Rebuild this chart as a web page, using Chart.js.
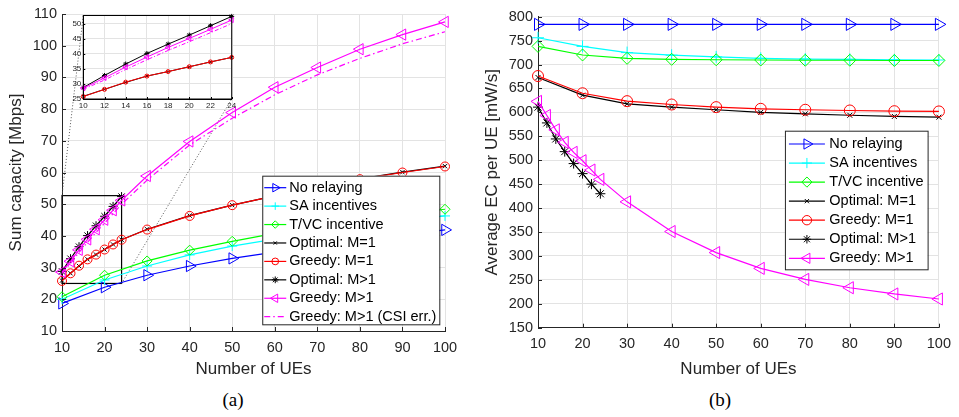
<!DOCTYPE html>
<html>
<head>
<meta charset="utf-8">
<script src="https://cdn.jsdelivr.net/npm/chart.js@4.4.0/dist/chart.umd.min.js"></script>
<style>
  body { margin: 0; background: #fff; }
  #wrap { position: relative; width: 959px; height: 417px; overflow: hidden; }
  #wrap canvas { position: absolute; }
  #capChart { left: 0; top: 0; }
  #zoomChart { left: 58px; top: 8px; }
  #ecChart { left: 480px; top: 0; }
  .caption { position: absolute; top: 389px; width: 60px; text-align: center;
             font-family: "Liberation Serif", "Times New Roman", serif; font-size: 19px; color: #000; }
</style>
</head>
<body>
<div id="wrap">
  <canvas id="capChart" width="480" height="380"></canvas>
  <canvas id="zoomChart" width="182" height="106"></canvas>
  <canvas id="ecChart" width="479" height="380"></canvas>
  <div class="caption" style="left:203px">(a)</div>
  <div class="caption" style="left:690px">(b)</div>
</div>
<script>
// number of UEs
const xFine = [10, 12, 14, 16, 18, 20, 22, 24];
const xCoarse = [10, 20, 30, 40, 50, 60, 70, 80, 90, 100];
const xMixed = [10, 12, 14, 16, 18, 20, 22, 24, 30, 40, 50, 60, 70, 80, 90, 100];

// (a) sum capacity [Mbps]
const capNoRelay = [18.7, 23.8, 27.6, 30.5, 32.9, 34.9, 36.8, 38.6, 40.3, 41.9];
const capSA = [20.0, 26.1, 30.5, 34.0, 36.8, 39.0, 41.0, 42.9, 44.7, 46.3];
const capTVC = [20.8, 27.6, 32.1, 35.5, 38.3, 40.8, 43.1, 45.2, 46.9, 48.4];
const capOptM1 = [25.9, 28.2, 30.5, 32.6, 34.1, 35.7, 37.3, 38.8, 42.1, 46.4, 49.7, 52.6, 55.4, 58.0, 60.1, 62.0];
const capGreedyM1 = [25.8, 28.2, 30.6, 32.6, 34.1, 35.7, 37.3, 38.8, 42.0, 46.3, 49.7, 52.6, 55.4, 57.9, 60.0, 61.9];
const capOptMm = [28.8, 32.8, 36.6, 40.1, 43.2, 46.2, 49.3, 52.4];
const capGreedyMm = [28.6, 32.0, 35.6, 38.9, 42.1, 45.1, 48.1, 51.2, 58.9, 69.8, 78.9, 86.9, 93.1, 98.9, 103.5, 107.5];
const capGreedyCsi = [28.2, 31.3, 34.8, 38.0, 41.1, 44.0, 47.0, 50.0, 57.6, 68.7, 77.1, 84.5, 90.8, 96.0, 100.6, 104.4];

// (b) average EC per UE [mW/s]
const ecNoRelay = [784, 784, 784, 784, 784, 784, 784, 784, 784, 784];
const ecSA = [756, 738, 725, 719.5, 716, 713, 711.5, 711, 710, 709.5];
const ecTVC = [738, 720, 713, 711, 710, 709.5, 709, 709, 708.5, 708.5];
const ecOptM1 = [673, 636, 618, 611, 605.5, 600, 597, 594, 591.5, 590];
const ecGreedyM1 = [676, 640, 623.5, 616.5, 611, 607.5, 605.5, 604, 602.5, 602];
const ecOptMm = [611, 578, 544.5, 518, 493, 472, 450, 430];
const ecGreedyMm = [623, 593.5, 563.5, 537.5, 516.5, 499, 479.5, 460, 413, 351, 307, 274, 251, 233.5, 220.5, 210];

// axis ranges and tick values
const capRange = [10, 110], ecRange = [150, 800], ueRange = [10, 100];
const zoomX = [10, 24], zoomY = [25, 52.7];
const ueTicks = [10, 20, 30, 40, 50, 60, 70, 80, 90, 100];
const capTicks = [10, 20, 30, 40, 50, 60, 70, 80, 90, 100, 110];
const ecTicks = [150, 200, 250, 300, 350, 400, 450, 500, 550, 600, 650, 700, 750, 800];
const zoomXTicks = [10, 12, 14, 16, 18, 20, 22, 24];
const zoomYTicks = [25, 30, 35, 40, 45, 50];

const TXT = '#262626';
const GRID = '#e3e3e3';
const SANS = '"Liberation Sans", Arial, sans-serif';

function pts(xs, ys) {
    return xs.map((x, i) => ({ x: x, y: ys[i] }));
}

function series(label, xs, ys, color, marker, extra) {
    return Object.assign({
        label: label,
        data: pts(xs, ys),
        borderColor: color,
        borderWidth: 1.2,
        pointStyle: marker.style,
        pointRotation: marker.rot || 0,
        pointRadius: marker.r,
        pointBorderColor: color,
        pointBackgroundColor: 'rgba(0,0,0,0)',
        pointBorderWidth: 1,
        tension: 0,
        fill: false,
        clip: false
    }, extra || {});
}

// later series sit on top, like the plotting order
function stackOrder(list) {
    list.forEach((d, i) => { d.order = list.length - i; });
    return list;
}

// framed legend drawn inside the plot area
const boxLegend = {
    id: 'boxLegend',
    afterDraw(chart, args, opts) {
        const { ctx, chartArea } = chart;
        const items = chart.data.datasets;
        ctx.save();
        ctx.font = '14.5px ' + SANS;
        const textW = Math.max(...items.map(d => ctx.measureText(d.label).width));
        const w = opts.padL + opts.sample + opts.gap + textW + opts.padR;
        const h = opts.padT + opts.rowH * (items.length - 1) + opts.padB;
        const right = chartArea.right - opts.right;
        const left = right - w;
        const top = opts.top != null ? chartArea.top + opts.top : chartArea.bottom - opts.bottom - h;
        ctx.fillStyle = '#fff';
        ctx.fillRect(left, top, w, h);
        ctx.strokeStyle = TXT;
        ctx.lineWidth = 1;
        ctx.strokeRect(left + 0.5, top + 0.5, w, h);
        items.forEach((d, i) => {
            const cy = top + opts.padT + i * opts.rowH;
            const sx = left + opts.padL;
            ctx.strokeStyle = d.borderColor;
            ctx.lineWidth = d.borderWidth;
            ctx.setLineDash(d.borderDash || []);
            ctx.beginPath();
            ctx.moveTo(sx, cy);
            ctx.lineTo(sx + opts.sample, cy);
            ctx.stroke();
            ctx.setLineDash([]);
            if (d.pointRadius > 0 && Chart.helpers && Chart.helpers.drawPoint) {
                ctx.fillStyle = 'rgba(0,0,0,0)';
                ctx.lineWidth = 1;
                Chart.helpers.drawPoint(ctx, {
                    pointStyle: d.pointStyle,
                    rotation: d.pointRotation,
                    radius: d.pointRadius * opts.markerScale,
                    borderWidth: 1
                }, sx + opts.sample / 2, cy);
            }
            ctx.fillStyle = '#000';
            ctx.textBaseline = 'middle';
            ctx.textAlign = 'left';
            ctx.fillText(d.label, sx + opts.sample + opts.gap, cy);
        });
        ctx.restore();
    }
};

// short inward tick marks on the left and bottom axes
const innerTicks = {
    id: 'innerTicks',
    afterDatasetsDraw(chart, args, opts) {
        const { ctx, chartArea: a, scales: { x, y } } = chart;
        const len = opts.len || 4;
        ctx.save();
        ctx.strokeStyle = opts.color || TXT;
        ctx.lineWidth = 1;
        ctx.beginPath();
        x.ticks.forEach(t => {
            const px = Math.round(x.getPixelForValue(t.value)) + 0.5;
            ctx.moveTo(px, a.bottom);
            ctx.lineTo(px, a.bottom - len);
        });
        y.ticks.forEach(t => {
            const py = Math.round(y.getPixelForValue(t.value)) + 0.5;
            ctx.moveTo(a.left, py);
            ctx.lineTo(a.left + len, py);
        });
        ctx.stroke();
        ctx.restore();
    }
};

function linearAxis(range, tickValues, fontSize, title, fitSize, horizontal, titlePad, tickPad) {
    return {
        type: 'linear',
        min: range[0],
        max: range[1],
        ticks: { color: TXT, font: { family: SANS, size: fontSize }, padding: tickPad, autoSkip: false },
        grid: { color: GRID, drawTicks: false },
        border: { color: TXT, width: 1 },
        title: title ? { display: true, text: title, color: TXT, font: { family: SANS, size: 17 }, padding: titlePad } : { display: false },
        afterBuildTicks: s => { s.ticks = tickValues.map(v => ({ value: v })); },
        afterFit: horizontal ? s => { s.height = fitSize; } : s => { s.width = fitSize; }
    };
}

// ---------- inset (zoom on 10..24 UEs) ----------
const zoomCanvas = document.getElementById('zoomChart');
const insetFrame = {
    id: 'insetFrame',
    beforeDraw(chart) {
        const a = chart.chartArea, ctx = chart.ctx;
        ctx.save();
        ctx.fillStyle = '#fff';
        ctx.fillRect(a.left, a.top, a.right - a.left, a.bottom - a.top);
        ctx.restore();
    },
    afterDraw(chart) {
        const a = chart.chartArea, ctx = chart.ctx;
        ctx.save();
        ctx.strokeStyle = '#000';
        ctx.lineWidth = 1;
        ctx.strokeRect(a.left, a.top, a.right - a.left, a.bottom - a.top);
        ctx.restore();
    }
};

const insetSets = stackOrder([
    series('Optimal: M=1', xFine, capOptM1.slice(0, 8), '#000000', { style: 'crossRot', r: 2 }, { borderWidth: 1 }),
    series('Greedy: M=1', xFine, capGreedyM1.slice(0, 8), '#ff0000', { style: 'circle', r: 2 }, { borderWidth: 1 }),
    series('Optimal: M>1', xFine, capOptMm, '#000000', { style: 'star', r: 2.5 }, { borderWidth: 1 }),
    series('Greedy: M>1', xFine, capGreedyMm.slice(0, 8), '#ff00ff', { style: 'triangle', rot: -90, r: 3 }, { borderWidth: 1 }),
    series('Greedy: M>1 (CSI err.)', xFine, capGreedyCsi.slice(0, 8), '#ff00ff', { style: 'circle', r: 0 }, { borderWidth: 1, borderDash: [4, 2, 1, 2] })
]);

const zoomChart = new Chart(zoomCanvas, {
    type: 'line',
    data: { datasets: insetSets },
    options: {
        responsive: false,
        animation: false,
        events: [],
        layout: { padding: { top: 7.5, right: 8.3, left: 0, bottom: 0 } },
        plugins: { legend: { display: false }, tooltip: { enabled: false }, innerTicks: { len: 2, color: '#000' } },
        scales: {
            x: Object.assign(linearAxis(zoomX, zoomXTicks, 8, null, 15, true, 0, 2), { border: { color: '#000' } }),
            y: Object.assign(linearAxis(zoomY, zoomYTicks, 8, null, 25.3, false, 0, 2), { border: { color: '#000' } })
        }
    },
    plugins: [insetFrame, innerTicks]
});

// ---------- (a) sum capacity ----------
const zoomBox = {
    id: 'zoomBox',
    beforeDatasetsDraw(chart) {
        const { ctx, scales: { x, y } } = chart;
        const x0 = x.getPixelForValue(zoomX[0]), x1 = x.getPixelForValue(zoomX[1]);
        const y0 = y.getPixelForValue(zoomY[1]), y1 = y.getPixelForValue(zoomY[0]);
        const a = zoomChart.chartArea;
        const ox = zoomCanvas.offsetLeft, oy = zoomCanvas.offsetTop;
        ctx.save();
        ctx.strokeStyle = '#000';
        ctx.lineWidth = 1.2;
        ctx.strokeRect(x0, y0, x1 - x0, y1 - y0);
        ctx.strokeStyle = '#555';
        ctx.lineWidth = 1;
        ctx.setLineDash([1, 2]);
        ctx.beginPath();
        ctx.moveTo(x0, y0);
        ctx.lineTo(ox + a.left, oy + a.top);
        ctx.moveTo(x1, y1);
        ctx.lineTo(ox + a.right, oy + a.bottom);
        ctx.stroke();
        ctx.restore();
    }
};

const capSets = stackOrder([
    series('No relaying', xCoarse, capNoRelay, '#0000ff', { style: 'triangle', rot: 90, r: 6.5 }),
    series('SA incentives', xCoarse, capSA, '#00ffff', { style: 'cross', r: 5 }),
    series('T/VC incentive', xCoarse, capTVC, '#00ff00', { style: 'rectRot', r: 5 }),
    series('Optimal: M=1', xMixed, capOptM1, '#000000', { style: 'crossRot', r: 3 }),
    series('Greedy: M=1', xMixed, capGreedyM1, '#ff0000', { style: 'circle', r: 4.5 }),
    series('Optimal: M>1', xFine, capOptMm, '#000000', { style: 'star', r: 4.5 }),
    series('Greedy: M>1', xMixed, capGreedyMm, '#ff00ff', { style: 'triangle', rot: -90, r: 6.5 }),
    series('Greedy: M>1 (CSI err.)', xMixed, capGreedyCsi, '#ff00ff', { style: 'circle', r: 0 }, { borderDash: [6, 3, 1.5, 3] })
]);

new Chart(document.getElementById('capChart'), {
    type: 'line',
    data: { datasets: capSets },
    options: {
        responsive: false,
        animation: false,
        events: [],
        layout: { padding: { top: 14, right: 35, left: 0, bottom: 0 } },
        plugins: {
            legend: { display: false },
            tooltip: { enabled: false },
            innerTicks: { len: 4 },
            boxLegend: { right: 5.7, bottom: 6.7, padL: 2, sample: 22, gap: 3, padR: 3, padT: 12, padB: 7.6, rowH: 18.43, markerScale: 0.75 }
        },
        scales: {
            x: linearAxis(ueRange, ueTicks, 14.5, 'Number of UEs', 49, true, { top: 0, bottom: 0 }, 8),
            y: linearAxis(capRange, capTicks, 14.5, 'Sum capacity [Mbps]', 62, false, { top: 6, bottom: 0 }, 5)
        }
    },
    plugins: [zoomBox, innerTicks, boxLegend]
});

// ---------- (b) average energy consumption ----------
const ecSets = stackOrder([
    series('No relaying', xCoarse, ecNoRelay, '#0000ff', { style: 'triangle', rot: 90, r: 7 }),
    series('SA incentives', xCoarse, ecSA, '#00ffff', { style: 'cross', r: 6 }),
    series('T/VC incentive', xCoarse, ecTVC, '#00ff00', { style: 'rectRot', r: 6 }),
    series('Optimal: M=1', xCoarse, ecOptM1, '#000000', { style: 'crossRot', r: 3.5 }),
    series('Greedy: M=1', xCoarse, ecGreedyM1, '#ff0000', { style: 'circle', r: 5.5 }),
    series('Optimal: M>1', xFine, ecOptMm, '#000000', { style: 'star', r: 5 }),
    series('Greedy: M>1', xMixed, ecGreedyMm, '#ff00ff', { style: 'triangle', rot: -90, r: 7 })
]);

new Chart(document.getElementById('ecChart'), {
    type: 'line',
    data: { datasets: ecSets },
    options: {
        responsive: false,
        animation: false,
        events: [],
        layout: { padding: { top: 16.7, right: 16, left: 0, bottom: 0 } },
        plugins: {
            legend: { display: false },
            tooltip: { enabled: false },
            innerTicks: { len: 4 },
            boxLegend: { right: 11.3, top: 114, padL: 4, sample: 36, gap: 4.4, padR: 4, padT: 13.3, padB: 11, rowH: 19.05, markerScale: 0.85 }
        },
        scales: {
            x: linearAxis(ueRange, ueTicks, 14.5, 'Number of UEs', 52.3, true, { top: 0, bottom: 0 }, 8),
            y: linearAxis(ecRange, ecTicks, 14.5, 'Average EC per UE [mW/s]', 58, false, { top: 2, bottom: 0 }, 5)
        }
    },
    plugins: [innerTicks, boxLegend]
});
</script>
</body>
</html>
